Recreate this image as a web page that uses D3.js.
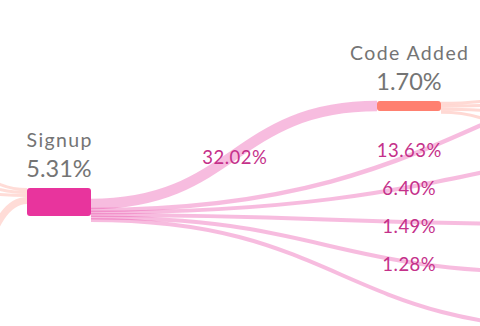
<!DOCTYPE html>
<html>
<head>
<meta charset="utf-8">
<script src="https://cdn.jsdelivr.net/npm/d3@7/dist/d3.min.js"></script>
<style>
  html, body { margin: 0; padding: 0; background: #ffffff; }
  svg { display: block; }
  text { font-family: Lato, "Open Sans", sans-serif; }
</style>
</head>
<body>
<div id="chart"></div>
<script>
// ---------------- data ----------------
const stepNames = ["Signup", "Code Added"];
const stepRates = [5.31, 1.70];                 // conversion % shown under each step
const stepColors = ["#E8349D", "#FF8070"];
// links leaving "Signup" (first goes to "Code Added", others to later steps)
const linkRates  = [32.02, 13.63, 6.40, 1.49, 1.28, 0.90];
const linkLabels = ["32.02%", "13.63%", "6.40%", "1.49%", "1.28%", ""];
// flows entering "Signup" from the previous step, and leaving "Code Added"
const inflowRates  = [3, 3, 3, 7];
const outflowRates = [2.5, 2.5, 2.5, 2.5];

// ---------------- layout ----------------
const W = 480, H = 326;
const colX = d3.scaleLinear().domain([0, 1]).range([27, 377]);   // step column -> left x
const nodeW = 64;
const nodeH = d3.scaleLinear().domain([1.70, 5.31]).range([10, 28]);
const nodeTop = [188, 101];
const linkW = d3.scaleLinear().domain([0, 32.02]).range([0, 10.5]);
// where each Signup link lands (step column, y) -- targets beyond the view
const linkTargetCol = [1, 2.49, 2.49, 1.523, 1.523, 1.609];
const linkTargetY   = [106, 28, 127, 224, 272.5, 329];
const linkSourceY   = [204, 210, 212.5, 215, 217.5, 220];
const labelPos = [[234.5, 163.5]].concat(d3.range(4).map(i => [409, 157 + i * 38]));

const svg = d3.select("#chart").append("svg")
  .attr("width", W).attr("height", H);

const linkGen = d3.linkHorizontal().x(d => d[0]).y(d => d[1]);

// inflow links (from previous step, off to the left)
const inSrcY = [160, 175, 190, 310];
let acc = 188;
const inflows = inflowRates.map((r, i) => {
  const y = acc + r / 2; acc += r;
  return { w: r, s: [-60, inSrcY[i]], t: [colX(0), y] };
});
svg.append("g").selectAll("path").data(inflows).join("path")
  .attr("d", d => linkGen({ source: d.s, target: d.t }))
  .attr("fill", "none")
  .attr("stroke", stepColors[1])
  .attr("stroke-opacity", 0.28)
  .attr("stroke-width", d => d.w);

// outflow links from Code Added
const outTgtY = [85, 100, 120, 165];
acc = nodeTop[1] + 0.5;
const outflows = outflowRates.map((r, i) => {
  const y = acc + r / 2 + 0.5; acc += r + 0.5;
  return { w: r + 0.5, s: [colX(1) + nodeW, y], t: [600, outTgtY[i]] };
});
svg.append("g").selectAll("path").data(outflows).join("path")
  .attr("d", d => linkGen({ source: d.s, target: d.t }))
  .attr("fill", "none")
  .attr("stroke", stepColors[1])
  .attr("stroke-opacity", 0.3)
  .attr("stroke-width", d => d.w);

// Signup links
const links = linkRates.map((r, i) => ({
  w: Math.max(4, linkW(r)),
  s: [colX(0) + nodeW, linkSourceY[i]],
  t: [colX(linkTargetCol[i]), linkTargetY[i]]
}));
svg.append("g").selectAll("path").data(links).join("path")
  .attr("d", d => linkGen({ source: d.s, target: d.t }))
  .attr("fill", "none")
  .attr("stroke", stepColors[0])
  .attr("stroke-opacity", 0.33)
  .attr("stroke-width", d => d.w);

// step bars
const nodes = stepNames.map((n, i) => ({
  name: n, rate: stepRates[i], x: colX(i), y: nodeTop[i], h: nodeH(stepRates[i]), color: stepColors[i]
}));
svg.append("g").selectAll("rect").data(nodes).join("rect")
  .attr("x", d => d.x).attr("y", d => d.y)
  .attr("width", nodeW).attr("height", d => d.h)
  .attr("rx", 3).attr("ry", 3)
  .attr("fill", d => d.color);

// step labels
const nl = svg.append("g").selectAll("g").data(nodes).join("g");
nl.append("text")
  .attr("x", d => d.x + nodeW / 2 + 0.7).attr("y", d => d.y - 41)
  .attr("text-anchor", "middle")
  .attr("fill", "#747474")
  .attr("font-size", 19.5)
  .attr("letter-spacing", "1.4px")
  .text(d => d.name);
nl.append("text")
  .attr("x", d => d.x + nodeW / 2).attr("y", d => d.y - 11.5)
  .attr("text-anchor", "middle")
  .attr("fill", "#747474")
  .attr("font-size", 23.5)
  .text(d => d.rate.toFixed(2) + "%");

// link labels
svg.append("g").selectAll("text").data(linkLabels.filter(l => l)).join("text")
  .attr("x", (d, i) => labelPos[i][0] + 0.25)
  .attr("y", (d, i) => labelPos[i][1])
  .attr("text-anchor", "middle")
  .attr("fill", "#C5318A")
  .attr("font-size", 18.5)
  .attr("letter-spacing", "0.5px")
  .text(d => d);
</script>
</body>
</html>
